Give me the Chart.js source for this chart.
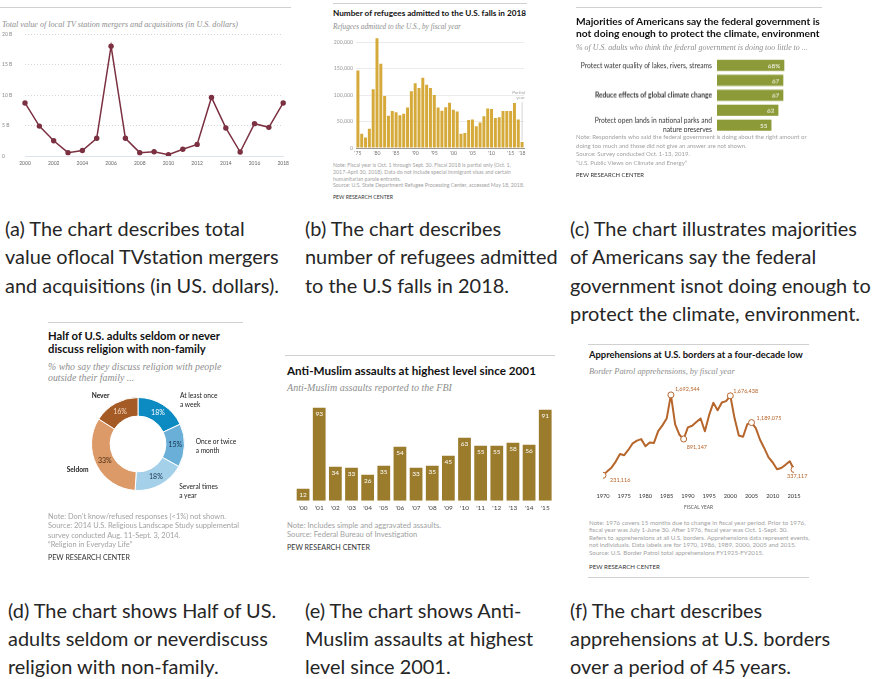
<!DOCTYPE html>
<html>
<head>
<meta charset="utf-8">
<script src="https://cdn.jsdelivr.net/npm/chart.js@4.4.1/dist/chart.umd.min.js"></script>
<style>
  body { margin: 0; width: 872px; height: 679px; background: #fff; position: relative; overflow: hidden; font-family: Lato, "Liberation Sans", sans-serif; }
  .a { position: absolute; white-space: nowrap; }
  .rule { position: absolute; height: 1px; background: #d0d0d0; }
  .t { font-weight: bold; color: #111; }
  .s { font-family: "Liberation Serif", serif; font-style: italic; color: #8e8e8e; }
  .n { color: #a2a2a2; }
  .p { color: #333; }
  .lbl { color: #222; font-size: 6.6px; line-height: 9px; }
  .cap { position: absolute; white-space: nowrap; font-family: Lato, sans-serif; font-size: 19px; color: #262626; }
  .box { position: absolute; }
</style>
</head>
<body>

<!-- (a) TV station mergers -->
<div class="rule" style="left:0;top:7px;width:291px"></div>
<div class="a s" data-w="236" style="left:2px;top:19.5px;line-height:9px;font-size:7.7px">Total value of local TV station mergers and acquisitions (in U.S. dollars)</div>
<div class="box" style="left:0;top:28px;width:293px;height:145px"><canvas id="chartA"></canvas></div>

<!-- (b) refugees -->
<div class="rule" style="left:333px;top:3px;width:194px"></div>
<div class="a t" data-w="193" style="left:333px;top:8px;line-height:10px;font-size:8.5px">Number of refugees admitted to the U.S. falls in 2018</div>
<div class="a s" data-w="128" style="left:333px;top:22.5px;line-height:9px;font-size:7px">Refugees admitted to the U.S., by fiscal year</div>
<div class="box" style="left:320px;top:30px;width:212px;height:130px"><canvas id="chartB"></canvas></div>
<div class="a n" style="left:503px;top:89.5px;line-height:5px;font-size:4.6px;text-align:right;width:22px">Partial<br>year</div>
<div class="a n" data-w="191" style="left:333px;top:162.35px;line-height:6.7px;font-size:5.2px">Note: Fiscal year is Oct. 1 through Sept. 30. Fiscal 2018 is partial only (Oct. 1,<br>2017-April 30, 2018). Data do not include special immigrant visas and certain<br>humanitarian parole entrants.<br>Source: U.S. State Department Refugee Processing Center, accessed May 18, 2018.</div>
<div class="a p" data-w="60" style="left:333px;top:193.7px;line-height:6px;font-size:5px">PEW RESEARCH CENTER</div>

<!-- (c) climate -->
<div class="rule" style="left:576px;top:7px;width:246px"></div>
<div class="a t" data-w="244" style="left:576px;top:14.85px;line-height:12.3px;font-size:10px">Majorities of Americans say the federal government is<br>not doing enough to protect the climate, environment</div>
<div class="a s" data-w="232" style="left:576px;top:42.5px;line-height:9px;font-size:7.3px">% of U.S. adults who think the federal government is doing too little to ...</div>
<div class="box" style="left:576px;top:58px;width:240px;height:73.5px"><canvas id="chartC"></canvas></div>
<div class="a n" data-w="231" style="left:576px;top:133.45px;line-height:8.5px;font-size:5.8px">Note: Respondents who said the federal government is doing about the right amount or<br>doing too much and those did not give an answer are not shown.<br>Source: Survey conducted Oct. 1-13, 2019.<br>“U.S. Public Views on Climate and Energy”</div>
<div class="a p" data-w="68" style="left:576px;top:170.5px;line-height:7px;font-size:5.5px">PEW RESEARCH CENTER</div>

<!-- (d) religion -->
<div class="rule" style="left:48px;top:322px;width:195px"></div>
<div class="a t" data-w="172" style="left:48px;top:328.9px;line-height:13.6px;font-size:10px">Half of U.S. adults seldom or never<br>discuss religion with non-family</div>
<div class="a s" data-w="173" style="left:48px;top:362.4px;line-height:10.6px;font-size:9.4px">% who say they discuss religion with people<br>outside their family ...</div>
<div class="box" style="left:91px;top:397px;width:94px;height:94px"><canvas id="chartD"></canvas></div>
<div class="a lbl" style="left:91.7px;top:390.5px;font-weight:bold">Never</div>
<div class="a lbl" style="left:180px;top:390.5px">At least once<br>a week</div>
<div class="a lbl" style="left:195.7px;top:436.5px">Once or twice<br>a month</div>
<div class="a lbl" style="left:66.7px;top:464.5px;font-weight:bold">Seldom</div>
<div class="a lbl" style="left:179.3px;top:482.2px">Several times<br>a year</div>
<div class="a n" data-w="191" style="left:48px;top:512px;line-height:9.4px;font-size:6.6px">Note: Don't know/refused responses (&lt;1%) not shown.<br>Source: 2014 U.S. Religious Landscape Study supplemental<br>survey conducted Aug. 11-Sept. 3, 2014.<br>“Religion in Everyday Life”</div>
<div class="a p" data-w="82" style="left:48px;top:554.3px;line-height:8px;font-size:6.3px">PEW RESEARCH CENTER</div>

<!-- (e) anti-Muslim assaults -->
<div class="rule" style="left:285px;top:355px;width:270px"></div>
<div class="a t" data-w="249" style="left:287px;top:364px;line-height:12px;font-size:10px">Anti-Muslim assaults at highest level since 2001</div>
<div class="a s" data-w="165" style="left:287px;top:383.3px;line-height:10px;font-size:9.5px">Anti-Muslim assaults reported to the FBI</div>
<div class="box" style="left:290px;top:400px;width:268px;height:115px"><canvas id="chartE"></canvas></div>
<div class="a n" data-w="154" style="left:287px;top:521.05px;line-height:9.3px;font-size:6.6px">Note: Includes simple and aggravated assaults.<br>Source: Federal Bureau of Investigation</div>
<div class="a p" data-w="83" style="left:287px;top:544.3px;line-height:8px;font-size:6.3px">PEW RESEARCH CENTER</div>

<!-- (f) border apprehensions -->
<div class="rule" style="left:588px;top:344px;width:221px"></div>
<div class="a t" data-w="214" style="left:589px;top:350.3px;line-height:10px;font-size:8.8px">Apprehensions at U.S. borders at a four-decade low</div>
<div class="a s" data-w="146" style="left:589px;top:366.5px;line-height:9px;font-size:8px">Border Patrol apprehensions, by fiscal year</div>
<div class="box" style="left:590px;top:380px;width:220px;height:130px"><canvas id="chartF"></canvas></div>
<div class="a n" data-w="221" style="left:589px;top:518.55px;line-height:7.5px;font-size:5.5px">Note: 1976 covers 15 months due to change in fiscal year period. Prior to 1976,<br>fiscal year was July 1-June 30. After 1976, fiscal year was Oct. 1-Sept. 30.<br>Refers to apprehensions at all U.S. borders. Apprehensions data represent events,<br>not individuals. Data labels are for 1970, 1986, 1989, 2000, 2005 and 2015.<br>Source: U.S. Border Patrol total apprehensions FY1925-FY2015.</div>
<div class="a p" data-w="71" style="left:589px;top:562.5px;line-height:7px;font-size:5.5px">PEW RESEARCH CENTER</div>
<div class="rule" style="left:588px;top:577px;width:221px"></div>

<!-- captions -->
<div class="cap" id="capA" style="left:5px;top:213.75px;line-height:28.5px">(a) The chart describes total<br>value oflocal TVstation mergers<br>and acquisitions (in US. dollars).</div>
<div class="cap" style="left:305px;top:213.75px;line-height:28.5px">(b) The chart describes<br>number of refugees admitted<br>to the U.S falls in 2018.</div>
<div class="cap" style="left:570px;top:213.75px;line-height:28.5px">(c) The chart illustrates majorities<br>of Americans say the federal<br>government isnot doing enough to<br>protect the climate, environment.</div>
<div class="cap" style="left:8px;top:596px;line-height:28px">(d) The chart shows Half of US.<br>adults seldom or neverdiscuss<br>religion with non-family.</div>
<div class="cap" style="left:305px;top:596px;line-height:28px">(e) The chart shows Anti-<br>Muslim assaults at highest<br>level since 2001.</div>
<div class="cap" style="left:570px;top:596px;line-height:28px">(f) The chart describes<br>apprehensions at U.S. borders<br>over a period of 45 years.</div>

<script>
// ---- data ----
const tvYears = ['2000','2001','2002','2003','2004','2005','2006','2007','2008','2009','2010','2011','2012','2013','2014','2015','2016','2017','2018'];
const tvValues = [8.7, 4.9, 2.5, 0.55, 0.9, 2.9, 18.0, 2.9, 0.55, 0.7, 0.2, 1.1, 1.9, 9.6, 4.6, 0.65, 5.3, 4.7, 8.7];
const tvTicks = [0, 5, 10, 15, 20];

const refugeeYears = [1975,1976,1977,1978,1979,1980,1981,1982,1983,1984,1985,1986,1987,1988,1989,1990,1991,1992,1993,1994,1995,1996,1997,1998,1999,2000,2001,2002,2003,2004,2005,2006,2007,2008,2009,2010,2011,2012,2013,2014,2015,2016,2017,2018];
const refugeeValues = [146000,27000,20000,36500,111000,207000,159000,98000,61000,70000,67500,62000,64500,76500,107000,122000,113000,132500,119500,113000,100000,76500,70500,77000,85500,72000,69000,27000,28500,53000,54000,41000,48000,60000,74500,73500,56500,58000,70000,70000,70000,85000,54000,11500];
const refugeeTickYears = [1975,1980,1985,1990,1995,2000,2005,2010,2015,2018];
const refugeeTicks = [0, 50000, 100000, 150000, 200000];

const climateLabels = ['Protect water quality of lakes, rivers, streams', 'Protect air quality', 'Reduce effects of global climate change', 'Protect animals and their habitats', ['Protect open lands in national parks and', 'nature preserves']];
const climateValues = [68, 67, 67, 62, 55];

const religionLabels = ['At least once a week', 'Once or twice a month', 'Several times a year', 'Seldom', 'Never'];
const religionValues = [18, 15, 18, 33, 16];

const assaultYears = ["'00","'01","'02","'03","'04","'05","'06","'07","'08","'09","'10","'11","'12","'13","'14","'15"];
const assaultValues = [12, 93, 34, 33, 26, 35, 54, 33, 35, 45, 63, 55, 55, 58, 56, 91];

const borderYears = [1970,1971,1972,1973,1974,1975,1976,1977,1978,1979,1980,1981,1982,1983,1984,1985,1986,1987,1988,1989,1990,1991,1992,1993,1994,1995,1996,1997,1998,1999,2000,2001,2002,2003,2004,2005,2006,2007,2008,2009,2010,2011,2012,2013,2014,2015];
const borderValues = [231116,302517,369495,480588,616630,596796,696039,812541,862217,888729,759420,825290,819919,1033974,1138566,1262435,1692544,1158030,969214,891147,1103353,1132033,1199560,1263490,1031668,1324202,1549876,1412953,1555776,1579010,1676438,1266214,955310,931557,1160395,1189075,1089092,876704,723825,556041,463382,340252,364768,420789,486651,337117];
const borderLabelYears = [1970, 1986, 1989, 2000, 2005, 2015];
const borderTicks = [1970, 1975, 1980, 1985, 1990, 1995, 2000, 2005, 2010, 2015];

// ---- text fitting ----
document.querySelectorAll('[data-w]').forEach(el => {
  const target = parseFloat(el.dataset.w);
  const size = parseFloat(el.style.fontSize);
  const w = el.getBoundingClientRect().width;
  el.style.fontSize = (size * target / w).toFixed(2) + 'px';
});
(function () {
  const cap = document.getElementById('capA');
  const size = 19 * 274 / cap.getBoundingClientRect().width;
  document.querySelectorAll('.cap').forEach(c => c.style.fontSize = size.toFixed(2) + 'px');
})();

Chart.defaults.font.family = 'Lato, "Liberation Sans", sans-serif';
Chart.defaults.animation = false;
Chart.defaults.maintainAspectRatio = false;
Chart.defaults.plugins.legend.display = false;
Chart.defaults.plugins.tooltip.enabled = false;

// (a) line chart
new Chart(document.getElementById('chartA'), {
  type: 'line',
  data: {
    labels: tvYears,
    datasets: [{
      data: tvValues,
      borderColor: '#7b3141',
      backgroundColor: '#7b3141',
      pointBackgroundColor: '#7b3141',
      borderWidth: 1.5,
      pointRadius: 2.7,
      pointBorderWidth: 0,
      tension: 0
    }]
  },
  options: {
    layout: { padding: { top: 6, right: 8, left: 2, bottom: 0 } },
    scales: {
      x: {
        grid: { display: false, drawTicks: false },
        border: { color: '#dfe3ec', width: 1 },
        ticks: {
          autoSkip: false, maxRotation: 0, padding: 4, color: '#666', font: { size: 5 },
          callback: (v, i) => (i % 2 === 0 ? tvYears[i] : '')
        },
        afterFit: s => { s.height = 17; }
      },
      y: {
        min: 0, max: 20,
        afterBuildTicks: s => { s.ticks = tvTicks.map(v => ({ value: v })); },
        grid: { color: '#d6d6d6', drawTicks: false },
        border: { display: false, dash: [1, 2] },
        ticks: { crossAlign: 'far', color: '#888', font: { size: 5 }, padding: 0,
          callback: v => (v === 0 ? '0' : v + ' B') },
        afterFit: s => { s.width = 23; }
      }
    }
  }
});

// (b) refugees bar chart
new Chart(document.getElementById('chartB'), {
  type: 'bar',
  data: {
    labels: refugeeYears,
    datasets: [{ data: refugeeValues, backgroundColor: '#d6aa3a', barPercentage: 0.78, categoryPercentage: 1 }]
  },
  options: {
    layout: { padding: { top: 6.7, right: 8, left: 0, bottom: 0 } },
    scales: {
      x: {
        grid: { display: false, drawTicks: false },
        border: { color: '#999' },
        ticks: {
          autoSkip: false, maxRotation: 0, padding: 2, color: '#777', font: { size: 5.2 },
          callback: (v, i) => (refugeeTickYears.includes(refugeeYears[i]) ? "'" + String(refugeeYears[i]).slice(2) : '')
        },
        afterFit: s => { s.height = 12; }
      },
      y: {
        min: 0, max: 210000,
        afterBuildTicks: s => { s.ticks = refugeeTicks.map(v => ({ value: v })); },
        grid: { color: '#ececec', drawTicks: false },
        border: { display: false },
        ticks: { color: '#999', font: { size: 5.2 }, padding: 3, callback: v => v.toLocaleString('en-US') },
        afterFit: s => { s.width = 36; }
      }
    }
  },
  plugins: [{
    id: 'partialLine',
    afterDatasetsDraw(chart) {
      const ctx = chart.ctx;
      const x = chart.scales.x.getPixelForValue(refugeeYears.length - 1);
      const y1 = chart.scales.y.getPixelForValue(87000);
      const y2 = chart.scales.y.getPixelForValue(14000);
      ctx.save();
      ctx.strokeStyle = '#bbb';
      ctx.lineWidth = 0.6;
      ctx.beginPath();
      ctx.moveTo(x, y1);
      ctx.lineTo(x, y2);
      ctx.stroke();
      ctx.restore();
    }
  }]
});

// (c) climate horizontal bars
new Chart(document.getElementById('chartC'), {
  type: 'bar',
  data: {
    labels: climateLabels,
    datasets: [{ data: climateValues, backgroundColor: '#8c9a37', barPercentage: 0.75, categoryPercentage: 1 }]
  },
  options: {
    indexAxis: 'y',
    layout: { padding: 0 },
    scales: {
      x: { display: false, min: 0, max: 100 },
      y: {
        grid: { display: false, drawTicks: false },
        border: { display: false },
        ticks: {
          color: '#333', padding: 5,
          font: ctx => ({ size: 6.7, lineHeight: 1.25, weight: ctx.index === 2 ? 'bold' : 'normal' })
        },
        afterFit: s => { s.width = 141; s.paddingTop = 0; s.paddingBottom = 0; }
      }
    }
  },
  plugins: [{
    id: 'climateValues',
    afterDatasetsDraw(chart) {
      const ctx = chart.ctx;
      ctx.save();
      ctx.font = '6.4px Lato, sans-serif';
      ctx.fillStyle = '#fff';
      ctx.textAlign = 'right';
      ctx.textBaseline = 'middle';
      chart.getDatasetMeta(0).data.forEach((bar, i) => {
        const v = climateValues[i];
        ctx.fillText(i === 0 ? v + '%' : String(v), bar.x - 4, bar.y + 0.5);
      });
      ctx.restore();
    }
  }]
});

// (d) religion doughnut
new Chart(document.getElementById('chartD'), {
  type: 'doughnut',
  data: {
    labels: religionLabels,
    datasets: [{
      data: religionValues,
      backgroundColor: ['#0b8bc1', '#6aafd7', '#a5d0ea', '#dc9a69', '#a55b25'],
      borderColor: '#fff',
      borderWidth: 1
    }]
  },
  options: { cutout: '60%', layout: { padding: 0 } },
  plugins: [{
    id: 'religionValues',
    afterDatasetsDraw(chart) {
      const ctx = chart.ctx;
      const colors = ['#ffffff', '#16324f', '#16324f', '#4a2a12', '#f3d9c2'];
      ctx.save();
      ctx.font = '7px Lato, sans-serif';
      ctx.textAlign = 'center';
      ctx.textBaseline = 'middle';
      chart.getDatasetMeta(0).data.forEach((arc, i) => {
        const p = arc.tooltipPosition();
        ctx.fillStyle = colors[i];
        ctx.fillText(religionValues[i] + '%', p.x, p.y);
      });
      ctx.restore();
    }
  }]
});

// (e) anti-Muslim assaults bars
new Chart(document.getElementById('chartE'), {
  type: 'bar',
  data: {
    labels: assaultYears,
    datasets: [{ data: assaultValues, backgroundColor: '#9b7b2c', barPercentage: 0.79, categoryPercentage: 1 }]
  },
  options: {
    layout: { padding: { top: 0.7, left: 5, right: 4.7, bottom: 0 } },
    scales: {
      x: {
        grid: { display: false, drawTicks: false },
        border: { display: false },
        ticks: { color: '#444', font: { size: 6.5 }, padding: 3, maxRotation: 0, autoSkip: false },
        afterFit: s => { s.height = 14.3; }
      },
      y: { display: false, min: 0, max: 100 }
    }
  },
  plugins: [{
    id: 'assaultValues',
    afterDatasetsDraw(chart) {
      const ctx = chart.ctx;
      ctx.save();
      ctx.font = '6.5px Lato, sans-serif';
      ctx.fillStyle = '#fff';
      ctx.textAlign = 'center';
      ctx.textBaseline = 'top';
      chart.getDatasetMeta(0).data.forEach((bar, i) => {
        ctx.fillText(String(assaultValues[i]), bar.x, bar.y + 2.5);
      });
      ctx.restore();
    }
  }]
});

// (f) border apprehensions line
const labelOffsets = { 1970: [7, 5], 1986: [4, -6], 1989: [3, 8], 2000: [3, -5], 2005: [5, -4], 2015: [-7, 7] };
new Chart(document.getElementById('chartF'), {
  type: 'line',
  data: {
    datasets: [{
      data: borderYears.map((y, i) => ({ x: y, y: borderValues[i] })),
      borderColor: '#b6652b',
      borderWidth: 2,
      borderJoinStyle: 'round',
      tension: 0,
      pointRadius: ctx => (borderLabelYears.includes(borderYears[ctx.dataIndex]) ? 3 : 0),
      pointBackgroundColor: '#fff',
      pointBorderColor: '#b6652b',
      pointBorderWidth: 1
    }]
  },
  options: {
    layout: { padding: { top: 9, left: 13, right: 16, bottom: 0 } },
    scales: {
      x: {
        type: 'linear', min: 1970, max: 2015,
        afterBuildTicks: s => { s.ticks = borderTicks.map(v => ({ value: v })); },
        grid: { display: false, drawTicks: false },
        border: { display: false },
        ticks: { color: '#333', font: { size: 5.7 }, padding: 4.5, callback: v => String(v) },
        title: { display: true, text: 'FISCAL YEAR', color: '#555', font: { size: 4.8 }, padding: { top: 3, bottom: 0 } },
        afterFit: s => { s.height = 22; }
      },
      y: { display: false, min: 0, max: 1800000 }
    }
  },
  plugins: [{
    id: 'borderLabels',
    afterDatasetsDraw(chart) {
      const ctx = chart.ctx;
      ctx.save();
      ctx.font = '5.5px Lato, sans-serif';
      ctx.fillStyle = '#b6652b';
      ctx.textAlign = 'left';
      ctx.textBaseline = 'middle';
      chart.getDatasetMeta(0).data.forEach((pt, i) => {
        const yr = borderYears[i];
        if (!borderLabelYears.includes(yr)) return;
        const off = labelOffsets[yr];
        ctx.fillText(borderValues[i].toLocaleString('en-US'), pt.x + off[0], pt.y + off[1]);
      });
      ctx.restore();
    }
  }]
});
</script>
</body>
</html>
